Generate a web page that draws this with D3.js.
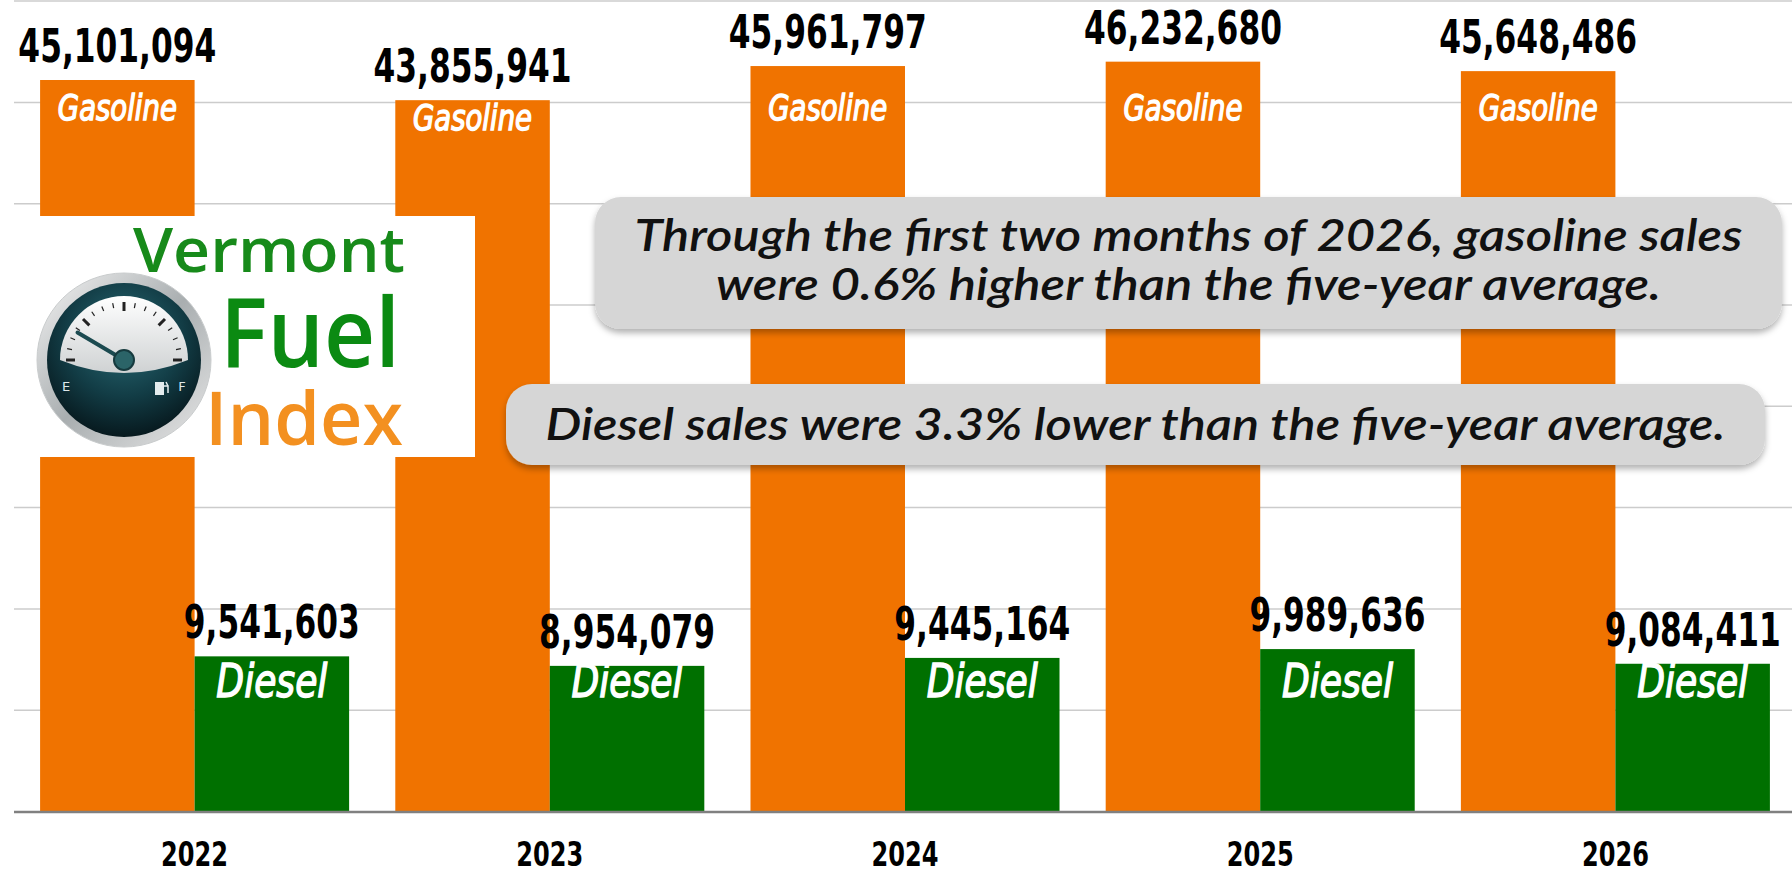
<!DOCTYPE html>
<html>
<head>
<meta charset="utf-8">
<script src="https://cdn.jsdelivr.net/npm/d3@7/dist/d3.min.js"></script>
<style>
  html, body { margin: 0; padding: 0; background: #fff; }
  svg { display: block; }
</style>
</head>
<body>
<svg id="chart" width="1792" height="871"></svg>
<script>
/* global d3 */

// data
var years = ["2022", "2023", "2024", "2025", "2026"];
var gasoline = [45101094, 43855941, 45961797, 46232680, 45648486];
var diesel = [9541603, 8954079, 9445164, 9989636, 9084411];
var seriesNames = ["Gasoline", "Diesel"];
var yMax = 50000000;
var gridStep = 6250000;
var gasNote = ["Through the first two months of 2026, gasoline sales",
               "were 0.6% higher than the five-year average."];
var dieselNote = ["Diesel sales were 3.3% lower than the five-year average."];

var plotLeft = 14, plotRight = 1792, baseY = 811, topY = 0.6;
var colors = {Gasoline: "#f07300", Diesel: "#007000"};
var narrow = "'Liberation Sans Narrow', 'DejaVu Sans Condensed', sans-serif";

var svg = d3.select("#chart");
var defs = svg.append("defs");

defs.append("filter").attr("id", "boxShadow")
  .attr("x", "-5%").attr("y", "-20%").attr("width", "110%").attr("height", "150%")
  .append("feDropShadow")
  .attr("dx", 0).attr("dy", 4).attr("stdDeviation", 3)
  .attr("flood-color", "#000").attr("flood-opacity", 0.3);

var x0 = d3.scaleBand().domain(years).range([17, 1793])
  .paddingInner(0.13).paddingOuter(0.065);
var x1 = d3.scaleBand().domain(seriesNames).range([0, x0.bandwidth()]);
var y = d3.scaleLinear().domain([0, yMax]).range([baseY, topY]);

var rows = years.map(function (yr, i) {
  return {year: yr, values: [
    {name: "Gasoline", value: gasoline[i]},
    {name: "Diesel", value: diesel[i]}
  ]};
});

// gridlines
var grid = svg.append("g")
  .attr("transform", "translate(" + plotLeft + ",0)")
  .call(d3.axisLeft(y)
    .tickValues(d3.range(gridStep, yMax + 1, gridStep))
    .tickSize(-(plotRight - plotLeft))
    .tickFormat(""));
grid.select(".domain").remove();
grid.selectAll(".tick line").attr("stroke", "#cccccc").attr("stroke-width", 1.5);

// bars
var groups = svg.append("g").selectAll("g")
  .data(rows).join("g")
  .attr("transform", function (d) { return "translate(" + x0(d.year) + ",0)"; });

groups.selectAll("rect")
  .data(function (d) { return d.values; })
  .join("rect")
  .attr("x", function (d) { return x1(d.name); })
  .attr("y", function (d) { return y(d.value); })
  .attr("width", x1.bandwidth())
  .attr("height", function (d) { return y(0) - y(d.value); })
  .attr("fill", function (d) { return colors[d.name]; });

// x axis
var xAxis = svg.append("g")
  .attr("transform", "translate(0," + baseY + ")")
  .call(d3.axisBottom(x0).tickSize(0).tickPadding(0));
xAxis.select(".domain").remove();
xAxis.selectAll(".tick").attr("transform", function (d) {
  return "translate(" + (x0(d) + x0.bandwidth() / 2) + ",0)";
});
xAxis.selectAll(".tick text")
  .attr("y", 55)
  .attr("dy", 0)
  .attr("font-family", narrow)
  .attr("font-weight", "bold")
  .attr("font-size", 33)
  .attr("fill", "#000")
  .attr("textLength", 67)
  .attr("lengthAdjust", "spacingAndGlyphs");

svg.append("line")
  .attr("x1", plotLeft).attr("x2", plotRight)
  .attr("y1", baseY + 1).attr("y2", baseY + 1)
  .attr("stroke", "#808080").attr("stroke-width", 2.5);

// value labels above bars
var numFmt = d3.format(",");
function numWidth(s) {
  var w = 0;
  for (var k = 0; k < s.length; k++) w += s[k] === "," ? 11 : 22;
  return w;
}
groups.selectAll("text.value")
  .data(function (d) { return d.values; })
  .join("text")
  .attr("class", "value")
  .attr("x", function (d) { return x1(d.name) + x1.bandwidth() / 2; })
  .attr("y", function (d) { return y(d.value) - 18; })
  .attr("text-anchor", "middle")
  .attr("font-family", narrow)
  .attr("font-weight", "bold")
  .attr("font-size", 46)
  .attr("fill", "#000")
  .attr("textLength", function (d) { return numWidth(numFmt(d.value)); })
  .attr("lengthAdjust", "spacingAndGlyphs")
  .text(function (d) { return numFmt(d.value); });

// series names inside bars
groups.selectAll("text.name")
  .data(function (d) { return d.values; })
  .join("text")
  .attr("class", "name")
  .attr("x", function (d) { return x1(d.name) + x1.bandwidth() / 2; })
  .attr("y", function (d) {
    return d.name === "Gasoline" ? Math.max(120, y(d.value) + 30) : 697;
  })
  .attr("text-anchor", "middle")
  .attr("font-family", narrow)
  .attr("font-style", "italic")
  .attr("font-weight", "normal")
  .attr("font-size", function (d) { return d.name === "Gasoline" ? 36 : 46; })
  .attr("fill", "#fff")
  .attr("stroke", "#fff")
  .attr("stroke-width", 1.4)
  .attr("textLength", function (d) { return d.name === "Gasoline" ? 119 : 111; })
  .attr("lengthAdjust", "spacingAndGlyphs")
  .text(function (d) { return d.name; });

// annotation boxes
function noteBox(lines, bx, by, bw, bh, baselines, widths) {
  var g = svg.append("g");
  g.append("rect")
    .attr("x", bx).attr("y", by).attr("width", bw).attr("height", bh)
    .attr("rx", 26).attr("ry", 26)
    .attr("fill", "#d6d6d6")
    .attr("filter", "url(#boxShadow)");
  g.selectAll("text").data(lines).join("text")
    .attr("x", bx + bw / 2)
    .attr("y", function (d, i) { return baselines[i]; })
    .attr("text-anchor", "middle")
    .attr("font-family", "Lato, 'Open Sans', sans-serif")
    .attr("font-style", "italic")
    .attr("font-weight", 600)
    .attr("font-size", 44)
    .attr("fill", "#111")
    .attr("textLength", function (d, i) { return widths[i]; })
    .attr("lengthAdjust", "spacingAndGlyphs")
    .text(function (d) { return d; });
}
noteBox(gasNote, 595, 197, 1187, 132, [251, 300], [1108, 945]);
noteBox(dieselNote, 506, 384, 1259, 81, [440], [1180]);

// logo
var logo = svg.append("g");
logo.append("rect").attr("x", 0).attr("y", 216).attr("width", 475).attr("height", 241)
  .attr("fill", "#fff");

var ring = defs.append("linearGradient").attr("id", "ring")
  .attr("x1", "0").attr("y1", "0").attr("x2", "1").attr("y2", "1");
ring.append("stop").attr("offset", "0").attr("stop-color", "#f4f4f4");
ring.append("stop").attr("offset", "0.5").attr("stop-color", "#a9aeb0");
ring.append("stop").attr("offset", "1").attr("stop-color", "#e8e8e8");
var dial = defs.append("radialGradient").attr("id", "dial")
  .attr("cx", "0.5").attr("cy", "0.35").attr("r", "0.65");
dial.append("stop").attr("offset", "0").attr("stop-color", "#2a6d78");
dial.append("stop").attr("offset", "0.6").attr("stop-color", "#123c45");
dial.append("stop").attr("offset", "1").attr("stop-color", "#07191e");
var face = defs.append("linearGradient").attr("id", "face")
  .attr("x1", "0").attr("y1", "0").attr("x2", "0").attr("y2", "1");
face.append("stop").attr("offset", "0").attr("stop-color", "#ffffff");
face.append("stop").attr("offset", "1").attr("stop-color", "#cfd2d3");

var cx = 124, cy = 360;
logo.append("circle").attr("cx", cx).attr("cy", cy).attr("r", 87).attr("fill", "url(#ring)")
  .attr("stroke", "#c9cccd").attr("stroke-width", 1);
logo.append("circle").attr("cx", cx).attr("cy", cy).attr("r", 77).attr("fill", "url(#dial)");
logo.append("path")
  .attr("d", "M60,360 A64,64 0 0 1 188,360 Q124,386 60,360 Z")
  .attr("fill", "url(#face)");

var tickAngles = d3.range(0, 17).map(function (k) { return Math.PI - k * Math.PI / 16; });
logo.selectAll("line.gtick").data(tickAngles).join("line")
  .attr("class", "gtick")
  .attr("x1", function (a, k) { return cx + Math.cos(a) * (k % 4 === 0 ? 49 : 53); })
  .attr("y1", function (a, k) { return cy - Math.sin(a) * (k % 4 === 0 ? 49 : 53); })
  .attr("x2", function (a) { return cx + Math.cos(a) * 58; })
  .attr("y2", function (a) { return cy - Math.sin(a) * 58; })
  .attr("stroke", "#222")
  .attr("stroke-width", function (a, k) { return k % 4 === 0 ? 3 : 1.2; });

var needleA = Math.PI * 0.83;
logo.append("line")
  .attr("x1", cx).attr("y1", cy)
  .attr("x2", cx + Math.cos(needleA) * 54).attr("y2", cy - Math.sin(needleA) * 54)
  .attr("stroke", "#1b4a50").attr("stroke-width", 4).attr("stroke-linecap", "round");
logo.append("circle").attr("cx", cx).attr("cy", cy).attr("r", 10)
  .attr("fill", "#2b6468").attr("stroke", "#163a3e").attr("stroke-width", 2);

logo.append("text").attr("x", 66).attr("y", 391).text("E")
  .attr("font-family", "'DejaVu Sans', sans-serif").attr("font-size", 13)
  .attr("fill", "#dfe8ea").attr("text-anchor", "middle");
logo.append("text").attr("x", 182).attr("y", 391).text("F")
  .attr("font-family", "'DejaVu Sans', sans-serif").attr("font-size", 13)
  .attr("fill", "#dfe8ea").attr("text-anchor", "middle");
logo.append("rect").attr("x", 155).attr("y", 382).attr("width", 9).attr("height", 13)
  .attr("fill", "#e4ecee");
logo.append("path").attr("d", "M164,386 l4,0 l0,7 M168,386 l-2,-4")
  .attr("stroke", "#e4ecee").attr("stroke-width", 1.5).attr("fill", "none");

var logoText = [
  {t: "Vermont", x: 133, y: 272, size: 62, w: 272, c: "#178a1a"},
  {t: "Fuel", x: 220, y: 367, size: 96, w: 180, c: "#0b8a12"},
  {t: "Index", x: 205, y: 445, size: 75, w: 198, c: "#f39020"}
];
logo.selectAll("text.brand").data(logoText).join("text")
  .attr("class", "brand")
  .attr("x", function (d) { return d.x; })
  .attr("y", function (d) { return d.y; })
  .attr("font-family", "'Open Sans', 'DejaVu Sans', sans-serif")
  .attr("font-weight", 600)
  .attr("font-size", function (d) { return d.size; })
  .attr("fill", function (d) { return d.c; })
  .attr("textLength", function (d) { return d.w; })
  .attr("lengthAdjust", "spacingAndGlyphs")
  .text(function (d) { return d.t; });
</script>
</body>
</html>
